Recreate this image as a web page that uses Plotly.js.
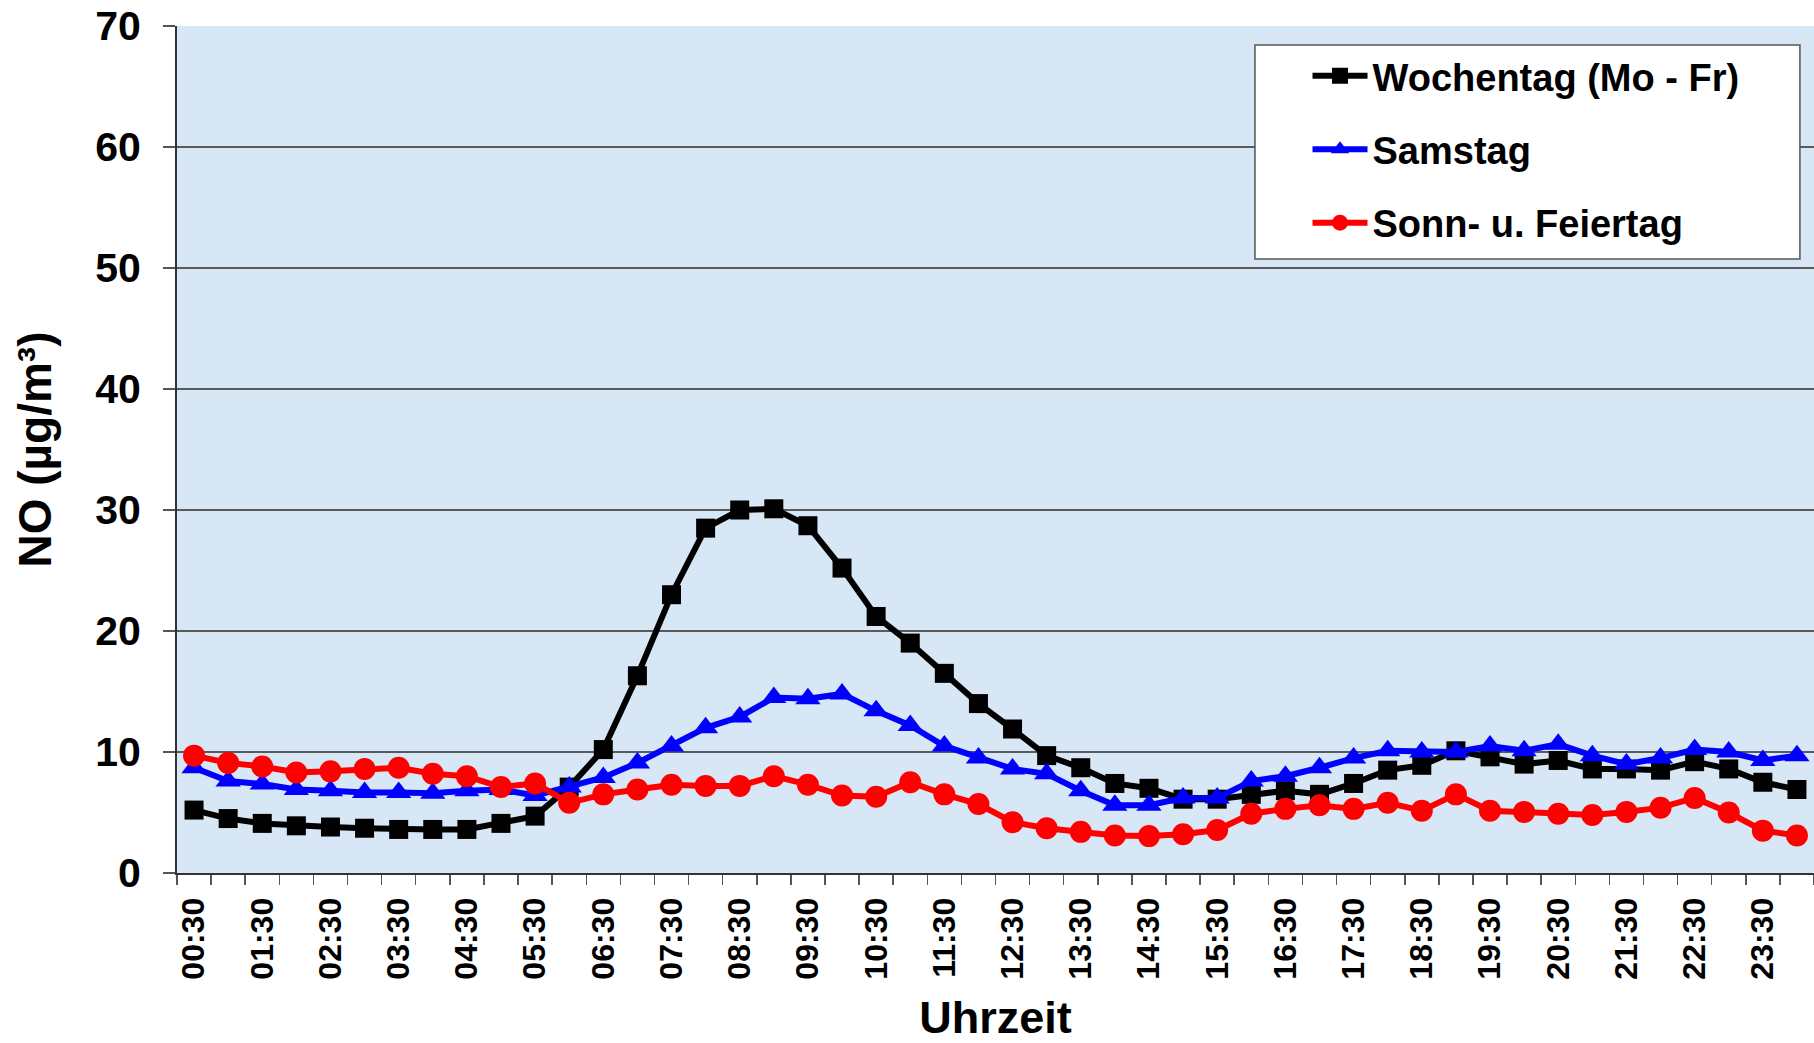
<!DOCTYPE html>
<html>
<head>
<meta charset="utf-8">
<script src="https://cdn.plot.ly/plotly-3.0.1.min.js"></script>
<style>html,body{margin:0;padding:0;background:#fff;}#chart{width:1814px;height:1043px;}</style>
</head>
<body>
<div id="chart"></div>
<script>
// Half-hourly categories 00:30 ... 24:00
const times = [
  "00:30","01:00","01:30","02:00","02:30","03:00","03:30","04:00",
  "04:30","05:00","05:30","06:00","06:30","07:00","07:30","08:00",
  "08:30","09:00","09:30","10:00","10:30","11:00","11:30","12:00",
  "12:30","13:00","13:30","14:00","14:30","15:00","15:30","16:00",
  "16:30","17:00","17:30","18:00","18:30","19:00","19:30","20:00",
  "20:30","21:00","21:30","22:00","22:30","23:00","23:30","24:00"
];
// Tick labels shown on every other category
const tickLabels = times.map((t, i) => (i % 2 === 0 ? t : ""));

const seriesNames = ["Wochentag (Mo - Fr)", "Samstag", "Sonn- u. Feiertag"];

const wochentag = [
  5.2, 4.5, 4.1, 3.9, 3.8, 3.7, 3.6, 3.6,
  3.6, 4.1, 4.7, 7.1, 10.2, 16.3, 23.0, 28.5,
  30.0, 30.1, 28.7, 25.2, 21.2, 19.0, 16.5, 14.0,
  11.9, 9.7, 8.7, 7.4, 7.0, 6.1, 6.1, 6.5,
  6.8, 6.5, 7.4, 8.5, 8.9, 10.1, 9.6, 9.0,
  9.3, 8.6, 8.6, 8.5, 9.2, 8.6, 7.5, 6.9
];
const samstag = [
  8.7, 7.6, 7.35, 6.9, 6.8, 6.65, 6.65, 6.6,
  6.8, 6.9, 6.4, 7.1, 7.9, 9.1, 10.5, 12.0,
  12.9, 14.5, 14.4, 14.8, 13.4, 12.2, 10.5, 9.5,
  8.6, 8.2, 6.8, 5.6, 5.6, 6.2, 6.2, 7.6,
  8.0, 8.7, 9.5, 10.1, 10.0, 10.0, 10.5, 10.1,
  10.65, 9.7, 9.0, 9.5, 10.2, 10.0, 9.3, 9.7
];
const sonntag = [
  9.7, 9.1, 8.8, 8.3, 8.4, 8.6, 8.7, 8.2,
  8.0, 7.1, 7.4, 5.8, 6.5, 6.9, 7.3, 7.2,
  7.2, 8.0, 7.3, 6.4, 6.3, 7.5, 6.5, 5.7,
  4.2, 3.7, 3.4, 3.1, 3.05, 3.2, 3.55, 4.9,
  5.3, 5.6, 5.3, 5.8, 5.15, 6.5, 5.15, 5.05,
  4.9, 4.8, 5.05, 5.4, 6.2, 5.0, 3.5, 3.1
];

const yTicks = [0, 10, 20, 30, 40, 50, 60, 70];

const FONT = "'Liberation Sans', Arial, sans-serif";

const traces = [
  {
    x: times, y: wochentag, name: seriesNames[0], legendgroup: "a",
    type: "scatter", mode: "lines+markers",
    line: {color: "#000000", width: 6},
    marker: {symbol: "square", size: 19, color: "#000000"}
  },
  {
    x: times, y: samstag, name: seriesNames[1], legendgroup: "b",
    type: "scatter", mode: "lines+markers",
    line: {color: "#0000ff", width: 6},
    marker: {symbol: "triangle-up", size: 22, color: "#0000ff"}
  },
  {
    x: times, y: sonntag, name: seriesNames[2], legendgroup: "c",
    type: "scatter", mode: "lines+markers",
    line: {color: "#ff0000", width: 6},
    marker: {symbol: "circle", size: 22, color: "#ff0000"}
  }
];

const layout = {
  width: 1814, height: 1043,
  margin: {l: 177, r: 0, t: 26, b: 170},
  paper_bgcolor: "#ffffff",
  plot_bgcolor: "#d8e7f5",
  font: {family: FONT, color: "#000000", weight: "bold"},
  showlegend: true,
  legend: {
    x: 0.6906, y: 0.978, xanchor: "left", yanchor: "top",
    bgcolor: "rgba(0,0,0,0)", borderwidth: 0,
    font: {family: FONT, size: 38, color: "#000000", weight: "bold"},
    itemwidth: 55,
    tracegroupgap: 21,
    traceorder: "grouped"
  },
  // legend frame (white box behind the legend entries)
  shapes: [{
    type: "rect", xref: "paper", yref: "paper",
    x0: 0.6585, x1: 0.9914, y0: 0.7249, y1: 0.9776,
    fillcolor: "#ffffff", line: {color: "#555555", width: 1.5},
    layer: "above"
  }],
  xaxis: {
    type: "category",
    categoryorder: "array", categoryarray: times,
    range: [-0.5, times.length - 0.5],
    tickmode: "array", tickvals: times, ticktext: tickLabels,
    tickson: "boundaries",
    ticks: "outside", ticklen: 10, tickwidth: 1.5, tickcolor: "#555555",
    tickangle: -90,
    ticklabelstandoff: 10,
    tickfont: {family: FONT, size: 32, color: "#000000", weight: "bold"},
    showline: true, linecolor: "#333333", linewidth: 2,
    showgrid: false, zeroline: false,
    title: {text: "Uhrzeit", font: {family: FONT, size: 45, color: "#000000", weight: "bold"}, standoff: 25},
    automargin: false
  },
  yaxis: {
    range: [0, 70],
    tickmode: "array", tickvals: yTicks,
    ticks: "outside", ticklen: 12, tickwidth: 1.5, tickcolor: "#555555",
    ticklabelstandoff: 14,
    tickfont: {family: FONT, size: 41, color: "#000000", weight: "bold"},
    showline: true, linecolor: "#333333", linewidth: 2,
    showgrid: true, gridcolor: "#5a5a5a", gridwidth: 1.3,
    zeroline: false,
    title: {text: "NO (µg/m³)", font: {family: FONT, size: 46, color: "#000000", weight: "bold"}, standoff: 29},
    automargin: false
  }
};

Plotly.newPlot("chart", traces, layout, {displayModeBar: false, staticPlot: true});
</script>
</body>
</html>
